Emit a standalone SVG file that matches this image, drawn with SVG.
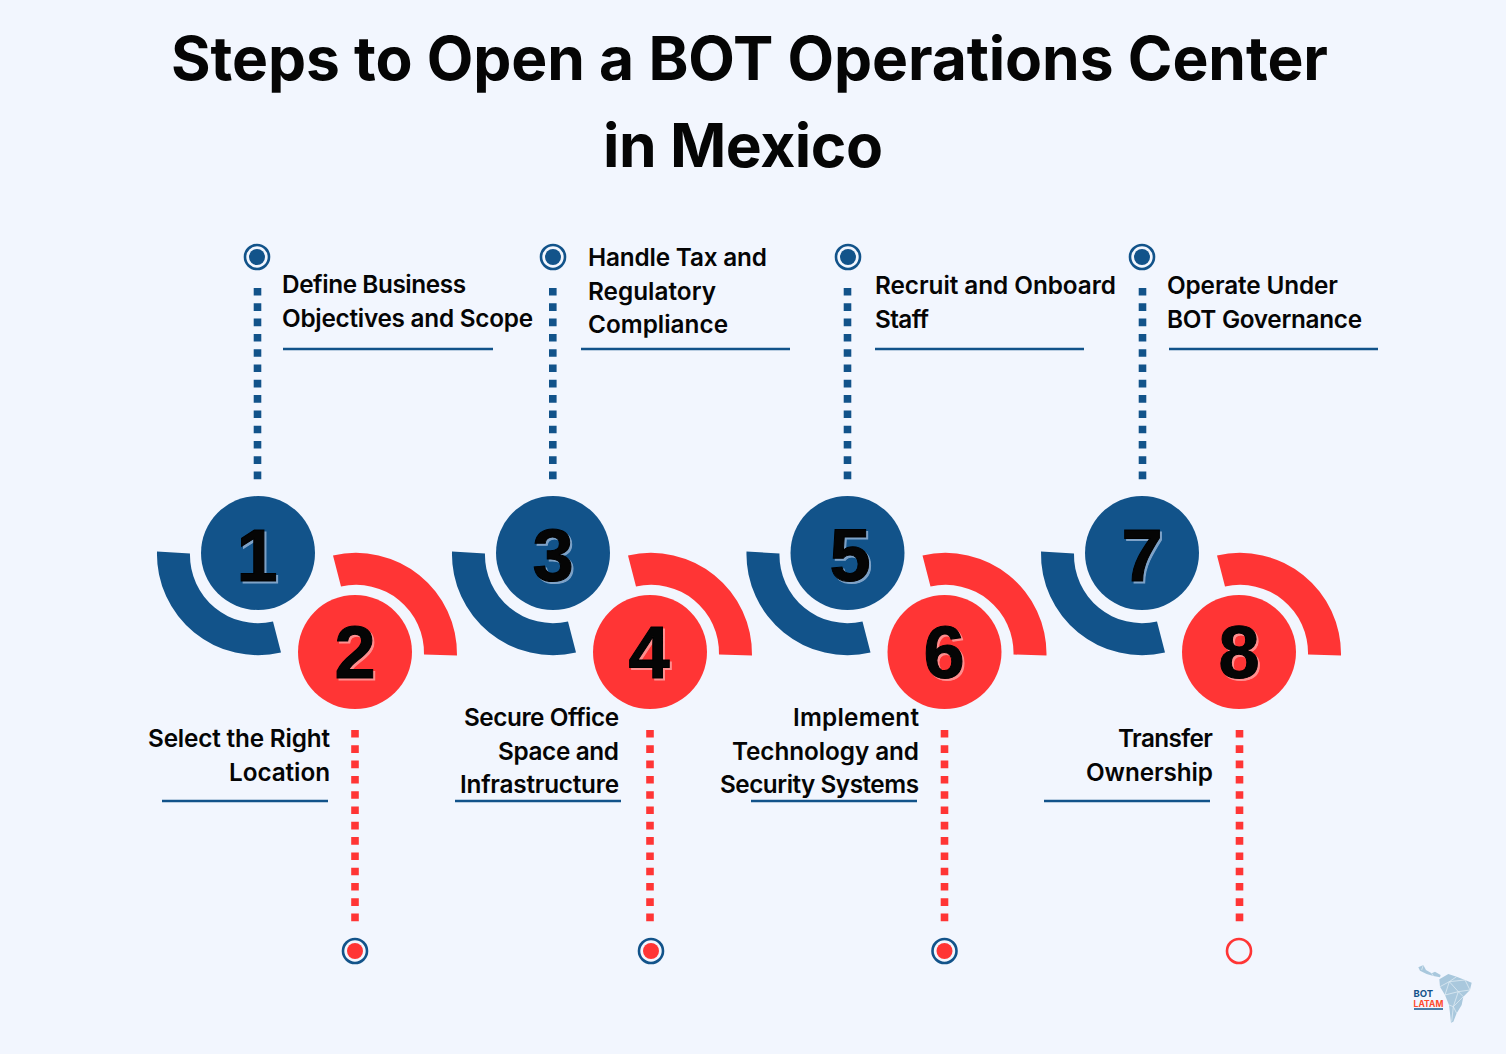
<svg xmlns="http://www.w3.org/2000/svg" width="1506" height="1054" viewBox="0 0 1506 1054">
<style>
text{font-family:"Inter","Liberation Sans",sans-serif;fill:#050505}
.t{font-size:60.500px;font-weight:650}
.l{font-size:24.300px;font-weight:600}
.n{font-family:"Liberation Sans",Arial,sans-serif;font-size:74px;font-weight:700;text-anchor:middle;stroke:#000;stroke-width:1px}
.sb{fill:#7fa3c8;stroke:#7fa3c8}
.sr{fill:#ff8f8f;stroke:#ff8f8f}
.b{fill:#12538a}
.c{fill:#ff3535}
.u{stroke:#12538a;stroke-width:2.6;fill:none}
.db{stroke:#12538a;stroke-width:7.6;stroke-dasharray:7.6 7.7;fill:none}
.dr{stroke:#ff3535;stroke-width:7.6;stroke-dasharray:7.6 7.7;fill:none}
.rb{fill:none;stroke:#12538a;stroke-width:2.6}
.rr{fill:none;stroke:#ff3535;stroke-width:2.6}
</style>
<defs>
<path id="ab" d="M-101-2A101 101 0 0 0 23 99L15 68A68 68 0 0 1-68 0Z"/>
<path id="ar" d="M-22-96A101 101 0 0 1 102 4L69 3A68 68 0 0 0-14-65Z"/>
</defs>
<rect width="1506" height="1054" fill="#f2f6fe"/>
<text id="title" class="t"><tspan x="171" y="80" textLength="1157">Steps to Open a BOT Operations Center</tspan><tspan x="603" y="167" textLength="280">in Mexico</tspan></text>
<g id="connectors">
<path class="db" d="M257.500 288V480M552.800 288V480M847.500 288V480M1142.500 288V480"/>
<path class="dr" d="M355 730V922M650 730V922M944.500 730V922M1239.500 730V922"/>
<path class="u" d="M283 349H493M581 349H790M875 349H1084M1169 349H1378M162 801H328M455 801H621M751 801H917M1044 801H1210"/>
</g>
<g id="n1"><circle class="rb" cx="257" cy="257" r="12"/><circle class="b" cx="257" cy="257" r="8"/><use class="b" href="#ab" x="258" y="553.500"/><circle class="b" cx="258" cy="553" r="57"/><text class="n sb" x="259" y="583">1</text><text class="n" x="257" y="581">1</text><text class="l"><tspan x="282" y="292.500" textLength="184">Define Business</tspan><tspan x="282" y="326.500" textLength="251">Objectives and Scope</tspan></text></g>
<g id="n2"><circle class="rb" cx="355" cy="951" r="12"/><circle class="c" cx="355" cy="951" r="8"/><use class="c" href="#ar" x="355" y="651.500"/><circle class="c" cx="355" cy="652" r="57"/><text class="n sr" x="357" y="680">2</text><text class="n" x="355" y="678">2</text><text class="l"><tspan x="148" y="747" textLength="182">Select the Right</tspan><tspan x="229" y="781" textLength="101">Location</tspan></text></g>
<g id="n3"><circle class="rb" cx="553" cy="257" r="12"/><circle class="b" cx="553" cy="257" r="8"/><use class="b" href="#ab" x="553" y="553.500"/><circle class="b" cx="553" cy="553" r="57"/><text class="n sb" x="555" y="583">3</text><text class="n" x="553" y="581">3</text><text class="l"><tspan x="588" y="266" textLength="179">Handle Tax and</tspan><tspan x="588" y="300" textLength="128">Regulatory</tspan><tspan x="588" y="333" textLength="140">Compliance</tspan></text></g>
<g id="n4"><circle class="rb" cx="651" cy="951" r="12"/><circle class="c" cx="651" cy="951" r="8"/><use class="c" href="#ar" x="650" y="651.500"/><circle class="c" cx="650" cy="652" r="57"/><text class="n sr" x="651" y="680">4</text><text class="n" x="649" y="678">4</text><text class="l"><tspan x="464" y="726" textLength="155">Secure Office</tspan><tspan x="498" y="760" textLength="121">Space and</tspan><tspan x="460" y="793" textLength="159">Infrastructure</tspan></text></g>
<g id="n5"><circle class="rb" cx="848" cy="257" r="12"/><circle class="b" cx="848" cy="257" r="8"/><use class="b" href="#ab" x="847.500" y="553.500"/><circle class="b" cx="847.500" cy="553" r="57"/><text class="n sb" x="852" y="583">5</text><text class="n" x="850" y="581">5</text><text class="l"><tspan x="875" y="294" textLength="241">Recruit and Onboard</tspan><tspan x="875" y="328" textLength="54">Staff</tspan></text></g>
<g id="n6"><circle class="rb" cx="944.500" cy="951" r="12"/><circle class="c" cx="944.500" cy="951" r="8"/><use class="c" href="#ar" x="944.500" y="651.500"/><circle class="c" cx="944.500" cy="652" r="57"/><text class="n sr" x="946" y="680">6</text><text class="n" x="944" y="678">6</text><text class="l"><tspan x="793" y="726" textLength="126">Implement</tspan><tspan x="732" y="760" textLength="187">Technology and</tspan><tspan x="720" y="793" textLength="199">Security Systems</tspan></text></g>
<g id="n7"><circle class="rb" cx="1142" cy="257" r="12"/><circle class="b" cx="1142" cy="257" r="8"/><use class="b" href="#ab" x="1142" y="553.500"/><circle class="b" cx="1142" cy="553" r="57"/><text class="n sb" x="1144" y="583">7</text><text class="n" x="1142" y="581">7</text><text class="l"><tspan x="1167" y="294" textLength="171">Operate Under</tspan><tspan x="1167" y="328" textLength="195">BOT Governance</tspan></text></g>
<g id="n8"><circle class="rr" cx="1239" cy="951" r="12"/><use class="c" href="#ar" x="1239" y="651.500"/><circle class="c" cx="1239" cy="652" r="57"/><text class="n sr" x="1241" y="680">8</text><text class="n" x="1239" y="678">8</text><text class="l"><tspan x="1118" y="747" textLength="95">Transfer</tspan><tspan x="1086" y="781" textLength="127">Ownership</tspan></text></g>
<g id="logo">
<g transform="translate(1390 950) scale(.3333)">
<path d="M85 52L100 45L108 60L125 70L135 65L152 75L150 82L130 78L110 72L90 62Z" fill="#a9c8dd"/>
<path d="M148 88L175 72L200 80L225 90L245 98L240 120L220 140L215 165L200 190L190 215L183 218L180 190L177 165L165 135L150 110Z" fill="#a9c8dd"/>
<path d="M150 110L178 95L200 80M178 95L225 90L240 120L205 125L178 95L165 135L205 125L220 140L190 170L205 125M190 170L177 165M190 170L200 190M190 170L185 215M100 45L95 60M125 70L130 78" fill="none" stroke="#e8f1f8" stroke-width="2"/>
</g>
<text x="1413.500" y="996.500" style="font-size:9.500px;font-weight:700;fill:#12538a">BOT</text>
<text x="1413.500" y="1006.500" textLength="30" style="font-size:8.500px;font-weight:700;fill:#ff4a2e">LATAM</text>
<path d="M1414 1009H1443" stroke="#12538a" stroke-width="1.500"/>
</g>
</svg>
